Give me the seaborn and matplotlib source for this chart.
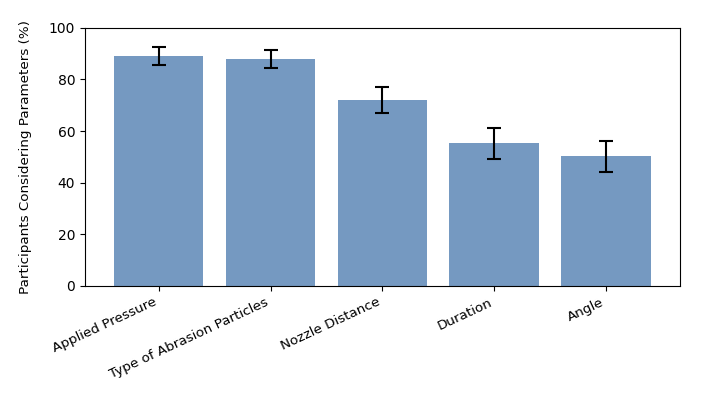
import numpy as np
import pandas as pd
import seaborn as sns
import matplotlib
matplotlib.use('Agg')
import matplotlib.pyplot as plt

# values
parameters = ['Applied Pressure', 'Type of Abrasion Particles', 'Nozzle Distance', 'Duration', 'Angle']
percent = [89, 88, 72, 55.3, 50.2]
errors = [3.5, 3.5, 5, 6, 6]

df = pd.DataFrame({'parameter': parameters, 'percent': percent, 'err': errors})

fig, ax = plt.subplots(figsize=(7.08, 3.97), dpi=100)
sns.barplot(data=df, x='parameter', y='percent', color='#7599c1', saturation=1,
            width=0.8, errorbar=None, ax=ax)
ax.errorbar(np.arange(len(parameters)), df['percent'], yerr=df['err'],
            fmt='none', ecolor='black', elinewidth=1.5, capsize=5, capthick=1.5)

ax.set_xlim(-0.66, len(parameters) - 0.34)
ax.set_ylim(0, 100)
ax.set_xlabel('')
ax.set_ylabel('Participants Considering Parameters (%)', labelpad=12, fontsize=9.7)
plt.setp(ax.get_xticklabels(), rotation=25, ha='right', fontsize=9.7)

plt.subplots_adjust(left=0.12, right=0.96, top=0.93, bottom=0.28)
plt.savefig('out.png', dpi=100)
